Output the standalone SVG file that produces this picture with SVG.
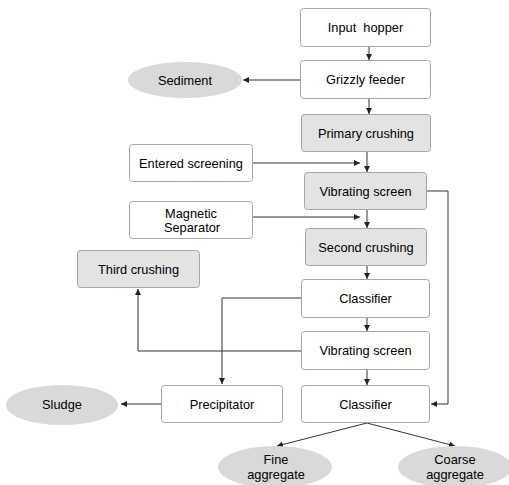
<svg xmlns="http://www.w3.org/2000/svg" width="509" height="485" viewBox="0 0 509 485">
<style>
.box{fill:#ffffff;stroke:#a6a6a6;stroke-width:1}
.gbox{fill:#e3e3e3;stroke:#a6a6a6;stroke-width:1}
.ell{fill:#d9d9d9;stroke:none}
.t{font-family:"Liberation Sans",Arial,sans-serif;font-size:12.8px;fill:#000;text-anchor:middle}
.c{fill:none;stroke:#333;stroke-width:1}
</style>
<defs>
<marker id="ah" markerUnits="userSpaceOnUse" markerWidth="7" markerHeight="7" refX="6" refY="3" orient="auto">
<path d="M0,0 L6,3 L0,6 z" fill="#222"/>
</marker>
</defs>
<rect width="509" height="485" fill="#fff"/>
<g id="connectors">
<path class="c" d="M369,47 V60" marker-end="url(#ah)"/>
<path class="c" d="M369,99 V114" marker-end="url(#ah)"/>
<path class="c" d="M300,80 H243" marker-end="url(#ah)"/>
<path class="c" d="M253,163 H360" marker-end="url(#ah)"/>
<path class="c" d="M367,152 V172" marker-end="url(#ah)"/>
<path class="c" d="M427,191 H448 V404 H431" marker-end="url(#ah)"/>
<path class="c" d="M253,217 H360" marker-end="url(#ah)"/>
<path class="c" d="M367,210 V228" marker-end="url(#ah)"/>
<path class="c" d="M367,266 V279" marker-end="url(#ah)"/>
<path class="c" d="M301,298 H222 V384" marker-end="url(#ah)"/>
<path class="c" d="M367,318 V331" marker-end="url(#ah)"/>
<path class="c" d="M301,351 H138 V289" marker-end="url(#ah)"/>
<path class="c" d="M367,370 V385" marker-end="url(#ah)"/>
<path class="c" d="M161,404 H121" marker-end="url(#ah)"/>
<path class="c" d="M367,423 L277,446" marker-end="url(#ah)"/>
<path class="c" d="M367,423 L455,446" marker-end="url(#ah)"/>
</g>
<g id="input-hopper"><rect class="box" x="300.5" y="8.5" width="130" height="38" rx="3"/><text class="t" x="365.5" y="32">Input&#160; hopper</text></g>
<g id="grizzly-feeder"><rect class="box" x="300.5" y="60.5" width="130" height="38" rx="3"/><text class="t" x="365.5" y="84">Grizzly feeder</text></g>
<g id="sediment"><ellipse class="ell" cx="185" cy="80" rx="57" ry="18"/><text class="t" x="185" y="84.5">Sediment</text></g>
<g id="primary-crushing"><rect class="gbox" x="301.5" y="114.5" width="129" height="37" rx="3"/><text class="t" x="366" y="137.5">Primary crushing</text></g>
<g id="entered-screening"><rect class="box" x="129.5" y="144.5" width="123" height="37" rx="3"/><text class="t" x="191" y="167.5">Entered screening</text></g>
<g id="vibrating-screen-1"><rect class="gbox" x="304.5" y="172.5" width="122" height="37" rx="3"/><text class="t" x="365.5" y="195.5">Vibrating screen</text></g>
<g id="magnetic-separator"><rect class="box" x="129.5" y="201.5" width="123" height="37" rx="3"/><text class="t" x="191" y="217.5">Magnetic</text><text class="t" x="192" y="231.5">Separator</text></g>
<g id="second-crushing"><rect class="gbox" x="305.5" y="228.5" width="121" height="37" rx="3"/><text class="t" x="366" y="251.5">Second crushing</text></g>
<g id="third-crushing"><rect class="gbox" x="77.5" y="250.5" width="122" height="37" rx="3"/><text class="t" x="138.5" y="273.5">Third crushing</text></g>
<g id="classifier-1"><rect class="box" x="301.5" y="279.5" width="128" height="38" rx="3"/><text class="t" x="365.5" y="303">Classifier</text></g>
<g id="vibrating-screen-2"><rect class="box" x="301.5" y="331.5" width="128" height="38" rx="3"/><text class="t" x="365.5" y="355">Vibrating screen</text></g>
<g id="classifier-2"><rect class="box" x="301.5" y="385.5" width="128" height="37" rx="3"/><text class="t" x="365.5" y="408.5">Classifier</text></g>
<g id="precipitator"><rect class="box" x="161.5" y="385.5" width="121" height="37" rx="3"/><text class="t" x="222" y="408.5">Precipitator</text></g>
<g id="sludge"><ellipse class="ell" cx="62" cy="405" rx="56" ry="20"/><text class="t" x="62" y="409">Sludge</text></g>
<g id="fine-aggregate"><ellipse class="ell" cx="275" cy="467" rx="57" ry="21"/><text class="t" x="276" y="464">Fine</text><text class="t" x="276" y="479">aggregate</text></g>
<g id="coarse-aggregate"><ellipse class="ell" cx="455" cy="467" rx="57" ry="21"/><text class="t" x="455" y="464">Coarse</text><text class="t" x="455" y="479">aggregate</text></g>
</svg>
